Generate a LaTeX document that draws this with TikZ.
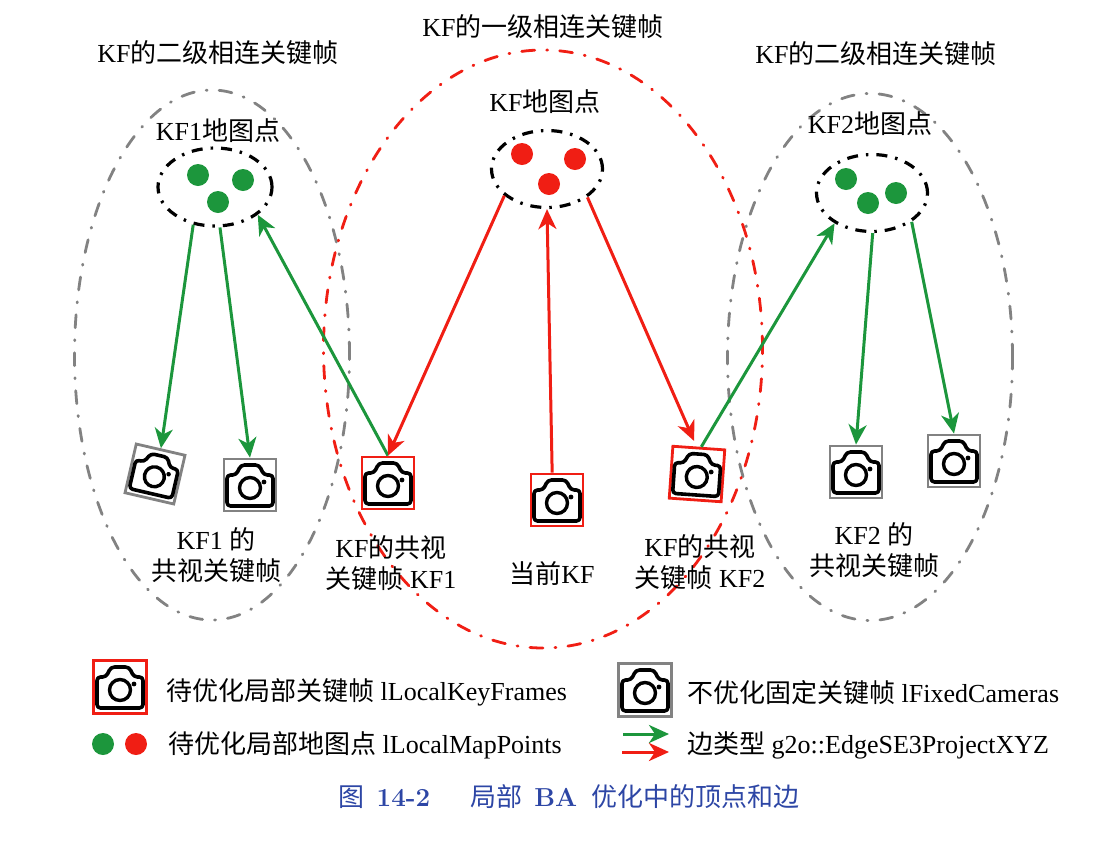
\documentclass[tikz,border=0pt]{standalone}
\usepackage{fontspec}
\setmainfont{Liberation Serif}
\newfontfamily\cjk{Noto Sans CJK SC}
\newfontfamily\lmr{Latin Modern Roman}
\usetikzlibrary{shapes.geometric,arrows.meta}
\newcommand{\C}[1]{{\cjk #1}}
\definecolor{kgreen}{RGB}{28,150,60}
\definecolor{kred}{RGB}{240,30,20}
\definecolor{kgrey}{RGB}{130,130,130}
\definecolor{kblue}{RGB}{45,70,165}
\tikzset{
  lab/.style={font=\fontsize{26}{31}\selectfont,align=center,inner sep=0pt},
  leg/.style={font=\fontsize{26}{31}\selectfont,anchor=west,inner sep=0pt},
  bigell/.style={ellipse,draw,inner sep=0pt,line width=2.8pt,line cap=round,dash pattern=on 13pt off 12pt on 1pt off 12pt},
  ptsell/.style={ellipse,draw=black,inner sep=0pt,line width=3.2pt,dash pattern=on 11pt off 8pt on 2.5pt off 8pt},
  dot/.style={circle,inner sep=0pt,minimum size=22pt,fill=#1},
  camred/.style={rectangle,draw=kred,line width=2.8pt,minimum size=52pt,inner sep=0pt},
  camgrey/.style={rectangle,draw=kgrey,line width=2.8pt,minimum size=52pt,inner sep=0pt},
  garr/.style={draw=kgreen,line width=3pt,-{Stealth[length=20pt,width=18pt,inset=6pt]}},
  rarr/.style={draw=kred,line width=3pt,-{Stealth[length=20pt,width=18pt,inset=6pt]}},
  camera/.pic={
    \draw[line width=3.6pt,rounded corners=3.5pt,line join=round] (-23,21) -- (-23,-10) -- (-14,-10) -- (-9,-20) -- (9,-20) -- (14,-10) -- (23,-10) -- (23,21) -- cycle;
    \draw[line width=3.4pt] (0,3) circle (10.5);
    \fill (14,-3) circle (2.4);
  }
}
\begin{document}
\begin{tikzpicture}[x=1pt,y=-1pt]
\useasboundingbox (0,0) rectangle (1100,847);
% large ellipses
\node[bigell,draw=kgrey,minimum width=275pt,minimum height=530pt] (eL) at (212,355) {};
\node[bigell,draw=kgrey,minimum width=285pt,minimum height=527pt] (eR) at (870,357) {};
\node[bigell,draw=kred,minimum width=439pt,minimum height=598pt] (eM) at (543,349) {};
% headings
\node[lab] (t1) at (218,53) {KF\C{的二级相连关键帧}};
\node[lab] (t2) at (543,27) {KF\C{的一级相连关键帧}};
\node[lab] (t3) at (876,54) {KF\C{的二级相连关键帧}};
\node[lab] (t4) at (218,131) {KF1\C{地图点}};
\node[lab] (t5) at (545,102) {KF\C{地图点}};
\node[lab] (t6) at (870,124) {KF2\C{地图点}};
% map point clusters
\node[ptsell,minimum width=114pt,minimum height=78pt] (pL) at (215,187) {};
\node[ptsell,minimum width=111pt,minimum height=77pt] (pM) at (547,169) {};
\node[ptsell,minimum width=111pt,minimum height=77pt] (pR) at (872,193) {};
\node[dot=kgreen] (d1) at (198,175) {};
\node[dot=kgreen] (d2) at (243,180) {};
\node[dot=kgreen] (d3) at (218,202) {};
\node[dot=kred] (d4) at (522,154) {};
\node[dot=kred] (d5) at (575,159) {};
\node[dot=kred] (d6) at (549,184) {};
\node[dot=kgreen] (d7) at (846,179) {};
\node[dot=kgreen] (d8) at (868,203) {};
\node[dot=kgreen] (d9) at (896,193) {};
% cameras
\node[camgrey,rotate=-13,minimum size=50pt] (c1) at (155,474) {};
\pic[rotate=-13,scale=0.95] at (c1.center) {camera};
\node[camgrey] (c2) at (250,485) {};
\pic at (c2.center) {camera};
\node[camred] (c3) at (388,483) {};
\pic at (c3.center) {camera};
\node[camred] (c4) at (557,500) {};
\pic at (c4.center) {camera};
\node[camred,rotate=-4] (c5) at (697,474) {};
\pic[rotate=-4] at (c5.center) {camera};
\node[camgrey] (c6) at (856,472) {};
\pic at (c6.center) {camera};
\node[camgrey] (c7) at (954,461) {};
\pic at (c7.center) {camera};
% arrows
\draw[garr] (pL.-120) -- (c1.north);
\draw[garr] (pL.-83) -- (c2.north);
\draw[garr] (c3.north) -- (pL.-33);
\draw[rarr] (pM.-148) -- (c3.north);
\draw[rarr] (c4.100) -- (pM.-90);
\draw[rarr,shorten >=6pt] (pM.-35) -- (c5.95);
\draw[garr] (c5.85) -- (pR.-141);
\draw[garr] (pR.-89) -- (c6.north);
\draw[garr] (pR.-36) -- (c7.north);
% captions
\node[lab] (t7) at (216,555) {KF1 \C{的}\\\C{共视关键帧}};
\node[lab] (t8) at (391,563) {KF\C{的共视}\\\C{关键帧} KF1};
\node[lab] (t9) at (552,574) {\C{当前}KF};
\node[lab] (t10) at (700,562) {KF\C{的共视}\\\C{关键帧} KF2};
\node[lab] (t11) at (874,550) {KF2 \C{的}\\\C{共视关键帧}};
% legend
\node[camred,minimum size=53pt] (l1) at (120,687) {};
\pic at (l1.center) {camera};
\node[camgrey,minimum size=53pt] (l2) at (645,690) {};
\pic at (l2.center) {camera};
\node[dot=kgreen] (l3) at (103,744) {};
\node[dot=kred] (l4) at (136,744) {};
\coordinate (a1) at (623,734);
\coordinate (a2) at (669,734);
\coordinate (a3) at (622,752);
\coordinate (a4) at (669,752);
\draw[garr] (a1) -- (a2);
\draw[rarr] (a3) -- (a4);
\node[leg] (t12) at (166,692) {\C{待优化局部关键帧} lLocalKeyFrames};
\node[leg] (t13) at (168,745) {\C{待优化局部地图点} lLocalMapPoints};
\node[leg] (t14) at (687,693) {\C{不优化固定关键帧} lFixedCameras};
\node[leg] (t15) at (687,745) {\C{边类型} g2o::EdgeSE3ProjectXYZ};
\node[lab,text=kblue,font=\fontsize{26}{31}\selectfont\lmr\bfseries] (t16) at (569,797) {{\cjk\mdseries 图}\hspace{12pt}14-2\hspace{40pt}{\cjk\mdseries 局部}\hspace{12pt}BA\hspace{14pt}{\cjk\mdseries 优化中的顶点和边}};
\end{tikzpicture}
\end{document}
